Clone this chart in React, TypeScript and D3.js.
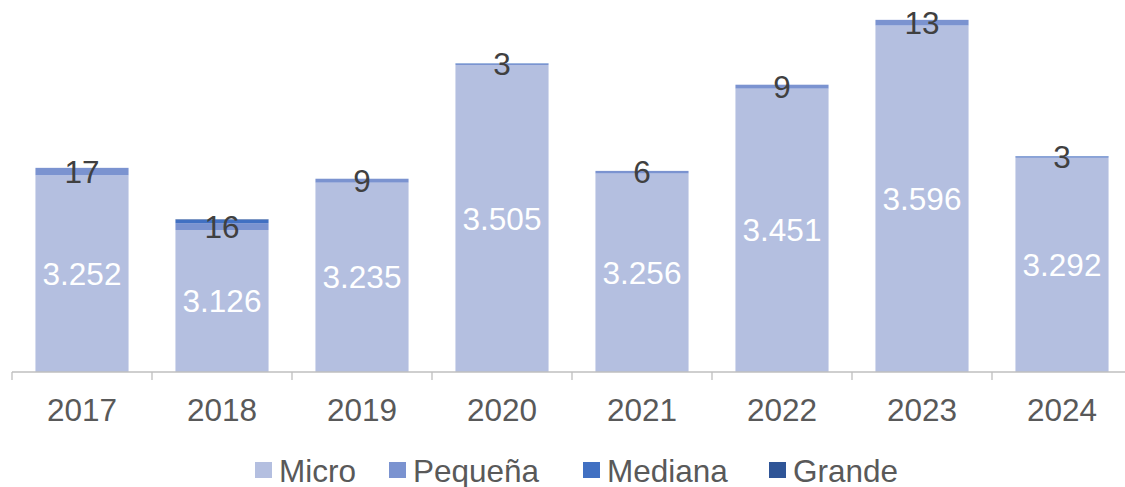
import React from "react";
import * as d3 from "d3";

const years = ["2017", "2018", "2019", "2020", "2021", "2022", "2023", "2024"];
const micro = [3252, 3126, 3235, 3505, 3256, 3451, 3596, 3292];
const pequena = [17, 16, 9, 3, 6, 9, 13, 3];
const mediana = [0, 8, 0, 1, 0, 0, 0, 1];
const grande = [0, 1, 0, 0, 0, 0, 0, 0];
const seriesNames = ["Micro", "Pequeña", "Mediana", "Grande"];
const colors = ["#b4bfe0", "#7b93d0", "#4170c2", "#2f5597"];

const fmt = (v: number) => d3.format(",")(v).replace(/,/g, ".");

export default function App() {
  const width = 1125,
    height = 487;
  const plotLeft = 12,
    plotRight = 1132,
    baseY = 372;

  const rows = years.map((y, i) => ({
    year: y,
    Micro: micro[i],
    Pequeña: pequena[i],
    Mediana: mediana[i],
    Grande: grande[i],
  }));
  const stacked = d3.stack<any>().keys(seriesNames)(rows);

  const xScale = d3
    .scaleBand()
    .domain(years)
    .range([plotLeft, plotRight])
    .paddingInner(0.335)
    .paddingOuter(0.1675);

  const yScale = d3.scaleLinear().domain([2800, 3650]).range([baseY, 2]);

  const step = xScale.step();
  const font = "'Liberation Sans', Arial, sans-serif";
  const fs = 31.5;

  const legendX = [255, 389, 583, 769];

  return (
    <svg
      width={width}
      height={height}
      style={{ position: "absolute", left: 0, top: 0, fontFamily: font }}
    >
      {/* barras */}
      {stacked.map((s, si) => (
        <g key={s.key} fill={colors[si]}>
          {s.map((d, i) => {
            const y0 = yScale(Math.max(d[0], 2800));
            const y1 = yScale(d[1]);
            if (d[1] - d[0] <= 0) return null;
            return (
              <rect
                key={i}
                x={xScale(years[i])}
                y={y1}
                width={xScale.bandwidth()}
                height={y0 - y1}
              />
            );
          })}
        </g>
      ))}

      {/* eje x */}
      <g stroke="#bfbfbf" strokeWidth={1.3}>
        <line x1={plotLeft} x2={plotRight} y1={baseY} y2={baseY} />
        {d3.range(years.length + 1).map((k) => (
          <line
            key={k}
            x1={plotLeft + k * step}
            x2={plotLeft + k * step}
            y1={baseY}
            y2={baseY + 8}
          />
        ))}
      </g>

      {/* etiquetas micro */}
      {stacked[0].map((d, i) => (
        <text
          key={"m" + i}
          x={xScale(years[i])! + xScale.bandwidth() / 2}
          y={(yScale(2800) + yScale(d[1])) / 2}
          textAnchor="middle"
          dominantBaseline="central"
          fill="#ffffff"
          fontSize={fs}
        >
          {fmt(micro[i])}
        </text>
      ))}

      {/* etiquetas pequeña */}
      {stacked[1].map((d, i) => (
        <text
          key={"p" + i}
          x={xScale(years[i])! + xScale.bandwidth() / 2}
          y={(yScale(d[0]) + yScale(d[1])) / 2}
          textAnchor="middle"
          dominantBaseline="central"
          fill="#404040"
          fontSize={fs}
        >
          {pequena[i]}
        </text>
      ))}

      {/* años */}
      {years.map((y) => (
        <text
          key={y}
          x={xScale(y)! + xScale.bandwidth() / 2}
          y={421}
          textAnchor="middle"
          fill="#595959"
          fontSize={fs}
        >
          {y}
        </text>
      ))}

      {/* leyenda */}
      {seriesNames.map((n, i) => (
        <g key={n}>
          <rect x={legendX[i]} y={462} width={17} height={16} fill={colors[i]} />
          <text x={legendX[i] + 24} y={482} fill="#595959" fontSize={fs}>
            {n}
          </text>
        </g>
      ))}
    </svg>
  );
}
